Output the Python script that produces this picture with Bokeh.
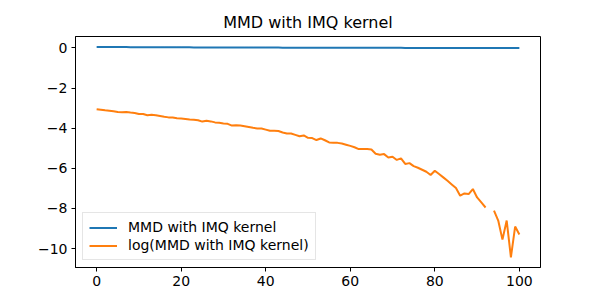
import numpy as np
from bokeh.plotting import figure
from bokeh.models import ColumnDataSource, FixedTicker, Range1d, Legend, LegendItem
from bokeh.embed import file_html
from bokeh.resources import INLINE

nan = float("nan")

steps = list(range(101))

log_mmd = [
    -3.05, -3.08, -3.11, -3.13, -3.16, -3.19, -3.20, -3.19, -3.22, -3.24,
    -3.29, -3.29, -3.35, -3.33, -3.35, -3.39, -3.43, -3.46, -3.47, -3.50,
    -3.52, -3.54, -3.57, -3.58, -3.60, -3.67, -3.63, -3.66, -3.71, -3.73,
    -3.76, -3.78, -3.87, -3.85, -3.86, -3.90, -3.94, -3.98, -4.01, -4.01,
    -4.07, -4.13, -4.13, -4.14, -4.21, -4.26, -4.26, -4.33, -4.40, -4.36,
    -4.48, -4.49, -4.59, -4.51, -4.60, -4.71, -4.73, -4.73, -4.76, -4.82,
    -4.88, -4.95, -5.04, -5.04, -5.04, -5.06, -5.27, -5.32, -5.29, -5.46,
    -5.42, -5.58, -5.50, -5.78, -5.74, -5.89, -5.97, -6.07, -6.17, -6.33,
    -6.12, -6.28, -6.45, -6.62, -6.80, -6.98, -7.36, -7.25, -7.28, -7.03,
    -7.45, -7.70, -7.95, nan, -8.11, -8.60, -9.55, -8.60, -10.43, -8.90,
    -9.30,
]

mmd = [
    0.0474, 0.0460, 0.0446, 0.0437, 0.0424, 0.0412, 0.0408, 0.0412, 0.0400, 0.0392,
    0.0373, 0.0373, 0.0351, 0.0358, 0.0351, 0.0337, 0.0324, 0.0314, 0.0311, 0.0302,
    0.0296, 0.0290, 0.0282, 0.0279, 0.0273, 0.0255, 0.0265, 0.0257, 0.0245, 0.0240,
    0.0233, 0.0228, 0.0209, 0.0213, 0.0211, 0.0202, 0.0194, 0.0187, 0.0181, 0.0181,
    0.0171, 0.0161, 0.0161, 0.0159, 0.0148, 0.0141, 0.0141, 0.0132, 0.0123, 0.0128,
    0.0113, 0.0112, 0.0102, 0.0110, 0.0101, 0.0090, 0.0088, 0.0088, 0.0086, 0.0081,
    0.0076, 0.0071, 0.0065, 0.0065, 0.0065, 0.0064, 0.0051, 0.0049, 0.0050, 0.0043,
    0.0044, 0.0038, 0.0041, 0.0031, 0.0032, 0.0028, 0.0026, 0.0023, 0.0021, 0.0018,
    0.0022, 0.0019, 0.0016, 0.0013, 0.0011, 0.0009, 0.0006, 0.0007, 0.0007, 0.0009,
    0.0006, 0.0005, 0.0004, -0.0001, 0.0003, 0.0002, 0.0001, 0.0002, 0.0000, 0.0001,
    0.0001,
]

x_ticks = [0, 20, 40, 60, 80, 100]
x_tick_labels = ["0", "20", "40", "60", "80", "100"]
y_ticks = [0, -2, -4, -6, -8, -10]
y_tick_labels = ["0", "\u22122", "\u22124", "\u22126", "\u22128", "\u221210"]

title_text = "MMD with IMQ kernel"
label_mmd = "MMD with IMQ kernel"
label_log = "log(MMD with IMQ kernel)"

FONT = "DejaVu Sans"

src = ColumnDataSource(dict(x=steps, mmd=mmd, logmmd=log_mmd))

p = figure(
    width=600, height=300,
    output_backend="svg", toolbar_location=None,
    x_range=Range1d(-5, 105), y_range=Range1d(-10.94, 0.57),
    min_border_left=75, min_border_right=60, min_border_top=36, min_border_bottom=33,
)

p.title.text = title_text
p.title.align = "center"
p.title.text_font = FONT
p.title.text_font_size = "16px"
p.title.text_font_style = "normal"
p.title.text_color = "black"

p.xgrid.visible = False
p.ygrid.visible = False
p.outline_line_color = "black"
p.outline_line_width = 1
p.outline_line_alpha = 1

for ax in (p.xaxis[0], p.yaxis[0]):
    ax.major_label_text_font = FONT
    ax.major_label_text_font_size = "14px"
    ax.major_label_text_color = "black"
    ax.major_tick_out = 4
    ax.major_tick_in = 0
    ax.minor_tick_out = 0
    ax.minor_tick_in = 0
    ax.axis_line_color = "black"
    ax.major_tick_line_color = "black"
    ax.major_label_standoff = 4

p.xaxis[0].ticker = FixedTicker(ticks=x_ticks)
p.xaxis[0].major_label_overrides = {t: s for t, s in zip(x_ticks, x_tick_labels)}
p.yaxis[0].ticker = FixedTicker(ticks=y_ticks)
p.yaxis[0].major_label_overrides = {t: s for t, s in zip(y_ticks, y_tick_labels)}

r1 = p.line("x", "mmd", source=src, line_color="#1f77b4", line_width=2)
r2 = p.line("x", "logmmd", source=src, line_color="#ff7f0e", line_width=2)

legend = Legend(
    items=[LegendItem(label=label_mmd, renderers=[r1]),
           LegendItem(label=label_log, renderers=[r2])],
    location="bottom_left",
    label_text_font=FONT,
    label_text_font_size="14px",
    label_text_color="black",
    glyph_width=28, glyph_height=15, label_height=15,
    label_standoff=11, spacing=2, padding=6, margin=7,
    border_line_color="#cccccc", border_line_width=1,
    background_fill_alpha=0.8,
)
p.add_layout(legend)

open("out.html", "w").write(file_html(p, INLINE))
